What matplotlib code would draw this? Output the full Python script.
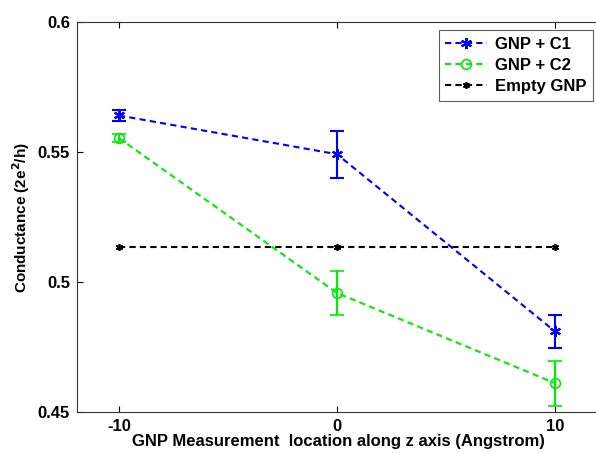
import matplotlib
matplotlib.use("Agg")
import matplotlib.pyplot as plt
from matplotlib.lines import Line2D

x = [-10, 0, 10]
c1 = [0.5641, 0.5492, 0.4810]
c1_err = [0.0023, 0.0091, 0.0065]
c2 = [0.5554, 0.4958, 0.4611]
c2_err = [0.0016, 0.0085, 0.0086]
empty = [0.5134, 0.5134, 0.5134]

labels = ["GNP + C1", "GNP + C2", "Empty GNP"]
xticks = [-10, 0, 10]
yticks = [0.45, 0.5, 0.55, 0.6]
ytick_labels = ["0.45", "0.5", "0.55", "0.6"]

plt.rcParams['font.family'] = ['Liberation Sans', 'DejaVu Sans']
plt.rcParams['font.weight'] = 'bold'
plt.rcParams['axes.unicode_minus'] = False

fig = plt.figure(figsize=(5.96, 4.53), dpi=100)
ax = fig.add_axes([0.129, 0.0905, 0.878, 0.8605])

blue = '#0000ff'
green = '#00ee00'
dash = (0, (3, 2))
star = (6, 2, 0)

ax.errorbar(x, c1, yerr=c1_err, color=blue, ls=dash, lw=1.5,
            marker=star, ms=8, mew=1.5, capsize=5, elinewidth=1.5, capthick=1.5)
ax.errorbar(x, c2, yerr=c2_err, color=green, ls=dash, lw=1.5,
            marker='o', mfc='none', ms=7, mew=1.2, capsize=5, elinewidth=1.5, capthick=1.5)
ax.plot(x, empty, color='black', ls=dash, lw=1.5, marker=star, ms=5, mew=1.2)

ax.set_xlim(-11.93, 12.07)
ax.set_ylim(0.45, 0.6)
ax.set_xticks(xticks)
ax.set_yticks(yticks)
ax.set_yticklabels(ytick_labels)
ax.tick_params(direction='in', top=True, right=False, labelsize=12, length=4, width=0.8, pad=5)
ax.spines['right'].set_visible(False)
for s in ax.spines.values():
    s.set_linewidth(0.8)
    s.set_color('#333333')

ax.set_xlabel("GNP Measurement  location along z axis (Angstrom)", fontsize=12,
              fontweight='bold', labelpad=0)
ax.set_ylabel(r"Conductance (2e$^{\mathbf{2}}$/h)", fontsize=11, fontweight='bold', labelpad=4)

handles = [
    Line2D([], [], color=blue, ls=dash, lw=1.5, marker=star, ms=8, mew=1.5),
    Line2D([], [], color=green, ls=dash, lw=1.5, marker='o', mfc='none', ms=7, mew=1.2),
    Line2D([], [], color='black', ls=dash, lw=1.5, marker=star, ms=5, mew=1.2),
]
leg = ax.legend(handles, labels, loc='upper right', bbox_to_anchor=(0.987, 0.98), fontsize=12,
                frameon=True, fancybox=False, edgecolor='#333333', handlelength=2.5,
                handletextpad=0.5, borderpad=0.4, labelspacing=0.38, borderaxespad=0)
leg.get_frame().set_linewidth(0.8)

fig.savefig("out.png", dpi=100)
